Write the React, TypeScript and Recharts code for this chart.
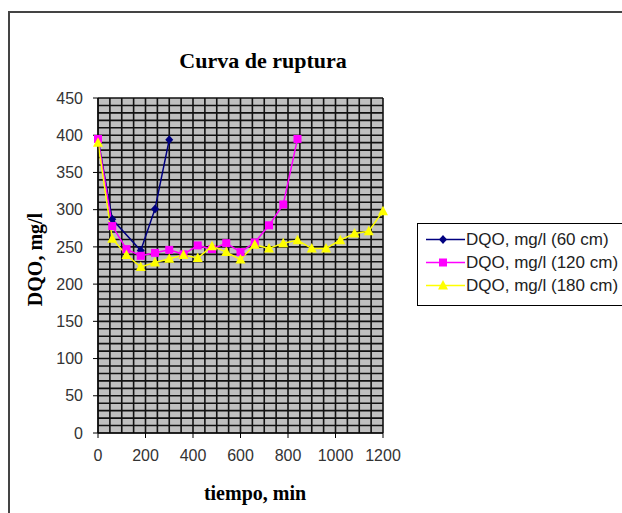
import React from 'react';
import { LineChart, Line, XAxis, YAxis, CartesianGrid, Legend } from 'recharts';

const title = 'Curva de ruptura';
const xLabel = 'tiempo, min';
const yLabel = 'DQO, mg/l';

const time60 = [0, 60, 180, 240, 300];
const dqo60 = [395, 287, 245, 301, 394];

const time120 = [0, 60, 120, 180, 240, 300, 360, 420, 480, 540, 600, 660, 720, 780, 840];
const dqo120 = [395, 278, 247, 238, 242, 246, 240, 252, 247, 255, 243, 256, 279, 307, 395];

const time180 = [0, 60, 120, 180, 240, 300, 360, 420, 480, 540, 600, 660, 720, 780, 840, 900, 960, 1020, 1080, 1140, 1200];
const dqo180 = [390, 261, 239, 223, 229, 234, 239, 235, 251, 243, 233, 253, 248, 255, 259, 248, 248, 259, 268, 271, 298];

const xTicks = [0, 200, 400, 600, 800, 1000, 1200];
const yTicks = [0, 50, 100, 150, 200, 250, 300, 350, 400, 450];
const xGrid = Array.from({ length: 25 }, (_, i) => i * 50);
const yGrid = Array.from({ length: 46 }, (_, i) => i * 10);

const seriesNames = ['DQO, mg/l (60 cm)', 'DQO, mg/l (120 cm)', 'DQO, mg/l (180 cm)'];
const seriesColors = ['#000080', '#FF00FF', '#FFFF00'];

const toRows = (xs: number[], ys: number[]) => xs.map((t, i) => ({ t, v: ys[i] }));
const data60 = toRows(time60, dqo60);
const data120 = toRows(time120, dqo120);
const data180 = toRows(time180, dqo180);

const Diamond = (props: any) => {
  const { cx, cy, index } = props;
  if (cx == null || cy == null) return <g key={index} />;
  return <path key={index} d={`M${cx},${cy - 4.5}L${cx + 4},${cy}L${cx},${cy + 4.5}L${cx - 4},${cy}Z`} fill={seriesColors[0]} />;
};
const Square = (props: any) => {
  const { cx, cy, index } = props;
  if (cx == null || cy == null) return <g key={index} />;
  return <rect key={index} x={cx - 4} y={cy - 4} width={8} height={8} fill={seriesColors[1]} />;
};
const Triangle = (props: any) => {
  const { cx, cy, index } = props;
  if (cx == null || cy == null) return <g key={index} />;
  return <path key={index} d={`M${cx},${cy - 5.5}L${cx + 5},${cy + 4}L${cx - 5},${cy + 4}Z`} fill={seriesColors[2]} />;
};

const markerFor = (i: number, cx: number, cy: number) => {
  if (i === 0) return <path d={`M${cx},${cy - 4.5}L${cx + 4},${cy}L${cx},${cy + 4.5}L${cx - 4},${cy}Z`} fill={seriesColors[0]} />;
  if (i === 1) return <rect x={cx - 4} y={cy - 4} width={8} height={8} fill={seriesColors[1]} />;
  return <path d={`M${cx},${cy - 5.5}L${cx + 5},${cy + 4}L${cx - 5},${cy + 4}Z`} fill={seriesColors[2]} />;
};

const LegendBox = () => (
  <div
    style={{
      border: '1.5px solid #000',
      background: '#fff',
      width: 215,
      height: 83,
      boxSizing: 'border-box',
      position: 'relative',
      fontFamily: '"Liberation Sans", Arial, sans-serif',
      fontSize: 17,
      color: '#222',
    }}
  >
    {seriesNames.map((name, i) => (
      <div key={name} style={{ position: 'absolute', left: 7, top: 4 + i * 23, height: 23, display: 'flex', alignItems: 'center' }}>
        <svg width={40} height={23} style={{ display: 'block' }}>
          <line x1={1} y1={11.5} x2={40} y2={11.5} stroke={seriesColors[i]} strokeWidth={1.5} />
          {markerFor(i, 18, 11.5)}
        </svg>
        <span style={{ whiteSpace: 'nowrap', marginLeft: 1 }}>{name}</span>
      </div>
    ))}
  </div>
);

export default function App() {
  const tickStyle = { fontFamily: '"Liberation Sans", Arial, sans-serif', fontSize: 16, fill: '#333' };
  return (
    <div style={{ position: 'absolute', left: 0, top: 0, width: 622, height: 513, overflow: 'hidden', background: '#fff' }}>
      <div style={{ position: 'absolute', left: 8, top: 11, width: 700, height: 600, borderLeft: '2px solid #444', borderTop: '2px solid #444' }} />
      <LineChart width={622} height={513} margin={{ top: 98, right: 239, bottom: 0, left: 0 }} style={{ position: 'absolute', left: 0, top: 0 }}>
        <CartesianGrid
          fill="#C0C0C0"
          fillOpacity={1}
          stroke="#111"
          strokeWidth={1.6}
          horizontalValues={yGrid}
          verticalValues={xGrid}
        />
        <XAxis
          type="number"
          dataKey="t"
          domain={[0, 1200]}
          ticks={xTicks}
          allowDuplicatedCategory={false}
          height={80}
          tickSize={5}
          tickMargin={12}
          stroke="#000"
          tick={tickStyle}
          interval={0}
        />
        <YAxis
          type="number"
          dataKey="v"
          domain={[0, 450]}
          ticks={yTicks}
          width={98}
          tickSize={5}
          tickMargin={10}
          stroke="#000"
          tick={tickStyle}
          interval={0}
        />
        <Line data={data60} dataKey="v" name={seriesNames[0]} stroke={seriesColors[0]} strokeWidth={1.5} dot={Diamond} isAnimationActive={false} />
        <Line data={data120} dataKey="v" name={seriesNames[1]} stroke={seriesColors[1]} strokeWidth={1.5} dot={Square} isAnimationActive={false} />
        <Line data={data180} dataKey="v" name={seriesNames[2]} stroke={seriesColors[2]} strokeWidth={1.5} dot={Triangle} isAnimationActive={false} />
        <Legend
          layout="horizontal"
          align="center"
          verticalAlign="middle"
          content={() => <LegendBox />}
          wrapperStyle={{ left: 417, top: 223, width: 215, height: 83 }}
        />
      </LineChart>
      <svg width={622} height={513} style={{ position: 'absolute', left: 0, top: 0, pointerEvents: 'none' }}>
        <text x={263} y={68} textAnchor="middle" fontFamily='"Liberation Serif", "Times New Roman", serif' fontWeight="bold" fontSize={22} fill="#000">{title}</text>
        <text x={255} y={500} textAnchor="middle" fontFamily='"Liberation Serif", "Times New Roman", serif' fontWeight="bold" fontSize={20} fill="#000">{xLabel}</text>
        <text transform="translate(42,259.5) rotate(-90)" textAnchor="middle" fontFamily='"Liberation Serif", "Times New Roman", serif' fontWeight="bold" fontSize={20} fill="#000">{yLabel}</text>
      </svg>
    </div>
  );
}
